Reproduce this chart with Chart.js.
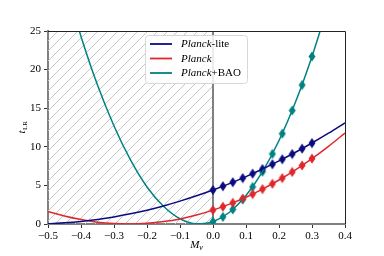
<!DOCTYPE html>
<html>
<head>
<meta charset="utf-8">
<script src="https://cdn.jsdelivr.net/npm/chart.js@4/dist/chart.umd.min.js"></script>
<style>
html, body { margin: 0; background: #fff; }
#wrap { width: 384px; height: 256px; }
</style>
</head>
<body>
<div id="wrap"><canvas id="chart"></canvas></div>
<script>
// curves
const curveX = [-0.5, -0.45, -0.4, -0.35, -0.3, -0.25, -0.2, -0.15, -0.1, -0.05, 0, 0.05, 0.1, 0.15, 0.2, 0.25, 0.3, 0.35, 0.4];
const liteCurve = [0.04, 0.15, 0.33, 0.59, 0.92, 1.32, 1.79, 2.34, 2.96, 3.65, 4.40, 5.23, 6.14, 7.12, 8.17, 9.29, 10.49, 11.76, 13.11];
const planckCurve = [1.63, 1.03, 0.57, 0.24, 0.05, 0.00, 0.09, 0.31, 0.66, 1.16, 1.80, 2.57, 3.47, 4.52, 5.70, 7.02, 8.47, 10.06, 11.79];
const baoX = [-0.45, -0.4, -0.35, -0.3, -0.25, -0.2, -0.15, -0.1, -0.05, 0, 0.05, 0.1, 0.15, 0.2, 0.25, 0.3, 0.35];
const baoCurve = [31.5, 24.3, 18.0, 12.7, 8.3, 4.8, 2.3, 0.68, 0.02, 0.30, 1.52, 3.68, 6.77, 10.81, 15.8, 21.7, 28.5];

// diamond markers
const markX = [0, 0.03, 0.06, 0.09, 0.12, 0.15, 0.18, 0.21, 0.24, 0.27, 0.30];
const liteMarks = [4.40, 4.89, 5.41, 5.95, 6.52, 7.12, 7.74, 8.38, 9.06, 9.76, 10.48];
const planckMarks = [1.80, 2.24, 2.74, 3.28, 3.87, 4.52, 5.21, 5.95, 6.74, 7.58, 8.47];
const baoMarks = [0.30, 0.92, 1.88, 3.17, 4.80, 6.77, 9.08, 11.7, 14.7, 18.0, 21.7];

const xTicks = [-0.5, -0.4, -0.3, -0.2, -0.1, 0, 0.1, 0.2, 0.3, 0.4];
const yTicks = [0, 5, 10, 15, 20, 25];

const NAVY = '#0b0b80';
const RED = '#e0282c';
const TEAL = '#008282';
const SERIF = '"Liberation Serif", "DejaVu Serif", serif';

const pts = (xs, ys) => xs.map((x, i) => ({ x: x, y: ys[i] }));

// thin diamond point
const diamond = (color) => {
    const c = document.createElement('canvas');
    c.width = 8; c.height = 11;
    const g = c.getContext('2d');
    g.fillStyle = color;
    g.beginPath();
    g.moveTo(4, 0.5); g.lineTo(7.5, 5.5); g.lineTo(4, 10.5); g.lineTo(0.5, 5.5);
    g.closePath();
    g.fill();
    return c;
};

const lineSet = (label, data, color) => ({
    label: label, data: data, borderColor: color, backgroundColor: color,
    borderWidth: 1.5, pointRadius: 0, showLine: true, tension: 0,
    cubicInterpolationMode: 'monotone'
});
const markSet = (data, color) => ({
    label: '', data: data, showLine: false, pointStyle: diamond(color),
    pointRadius: 4, backgroundColor: color, borderColor: color
});

// hatched region + x=0 line
const hatchPlugin = {
    id: 'hatch',
    beforeDatasetsDraw(chart) {
        const { ctx, chartArea: a, scales: { x, y } } = chart;
        const x0 = x.getPixelForValue(-0.5), x1 = x.getPixelForValue(0);
        ctx.save();
        ctx.beginPath();
        ctx.rect(x0, a.top, x1 - x0, a.bottom - a.top);
        ctx.clip();
        ctx.strokeStyle = '#c6c6c6';
        ctx.lineWidth = 1;
        const h = a.bottom - a.top;
        for (let s = x0 - h; s < x1 + 10; s += 10) {
            ctx.beginPath();
            ctx.moveTo(s, a.bottom);
            ctx.lineTo(s + h, a.top);
            ctx.stroke();
        }
        ctx.restore();
        ctx.save();
        ctx.strokeStyle = '#808080';
        ctx.lineWidth = 2;
        ctx.beginPath();
        ctx.moveTo(x1, a.top); ctx.lineTo(x1, a.bottom);
        ctx.stroke();
        ctx.restore();
    },
    afterDraw(chart) {
        const { ctx, chartArea: a } = chart;
        ctx.save();
        // top / right spines
        ctx.strokeStyle = '#222';
        ctx.lineWidth = 1;
        ctx.beginPath();
        ctx.moveTo(a.left, a.top + 0.5); ctx.lineTo(a.right + 0.5, a.top + 0.5); ctx.lineTo(a.right + 0.5, a.bottom);
        ctx.stroke();
        // axis titles
        ctx.fillStyle = '#000';
        ctx.textBaseline = 'alphabetic';
        ctx.font = 'italic 11px ' + SERIF;
        const cx = (a.left + a.right) / 2;
        const mw = ctx.measureText('M').width;
        ctx.font = 'italic 8px ' + SERIF;
        const nw = ctx.measureText('ν').width;
        let sx = cx - (mw + nw) / 2;
        ctx.font = 'italic 11px ' + SERIF;
        ctx.fillText('M', sx, 248);
        ctx.font = 'italic 8px ' + SERIF;
        ctx.fillText('ν', sx + mw, 250);

        ctx.translate(25, (a.top + a.bottom) / 2);
        ctx.rotate(-Math.PI / 2);
        ctx.font = 'italic 11px ' + SERIF;
        const tw = ctx.measureText('t').width;
        ctx.font = '7px ' + SERIF;
        const lw = ctx.measureText('LR').width;
        sx = -(tw + lw) / 2;
        ctx.font = 'italic 11px ' + SERIF;
        ctx.fillText('t', sx, 0);
        ctx.font = '7px ' + SERIF;
        ctx.fillText('LR', sx + tw + 0.5, 2);
        ctx.restore();

        // legend
        ctx.save();
        const lx = 145, ly = 35, lwid = 102, lh = 48;
        ctx.fillStyle = 'rgba(255,255,255,0.85)';
        ctx.strokeStyle = '#d8d8d8';
        ctx.lineWidth = 1;
        ctx.beginPath();
        ctx.roundRect(lx + 0.5, ly + 0.5, lwid, lh, 3);
        ctx.fill();
        ctx.stroke();
        const rows = [
            [NAVY, 'Planck', '-lite'],
            [RED, 'Planck', ''],
            [TEAL, 'Planck', '+BAO']
        ];
        rows.forEach((r, i) => {
            const yy = 44 + i * 14.5;
            ctx.strokeStyle = r[0];
            ctx.lineWidth = 1.8;
            ctx.beginPath();
            ctx.moveTo(150, yy); ctx.lineTo(172, yy);
            ctx.stroke();
            ctx.fillStyle = '#000';
            ctx.textBaseline = 'middle';
            ctx.font = 'italic 11px ' + SERIF;
            ctx.fillText(r[1], 181, yy + 0.5);
            const w = ctx.measureText(r[1]).width;
            ctx.font = '11px ' + SERIF;
            ctx.fillText(r[2], 181 + w, yy + 0.5);
        });
        ctx.restore();
    }
};

const fmt = (v) => {
    if (Math.abs(v) < 1e-9) return '0.0';
    const s = Math.abs(v).toFixed(1);
    return v < 0 ? '\u2212' + s : s;
};

new Chart(document.getElementById('chart'), {
    type: 'scatter',
    data: {
        datasets: [
            lineSet('Planck-lite', pts(curveX, liteCurve), NAVY),
            lineSet('Planck', pts(curveX, planckCurve), RED),
            lineSet('Planck+BAO', pts(baoX, baoCurve), TEAL),
            markSet(pts(markX, liteMarks), NAVY),
            markSet(pts(markX, planckMarks), RED),
            markSet(pts(markX, baoMarks), TEAL)
        ]
    },
    options: {
        responsive: true,
        maintainAspectRatio: false,
        animation: false,
        layout: { padding: { top: 31, right: 39, left: 0, bottom: 0 } },
        plugins: { legend: { display: false }, tooltip: { enabled: false } },
        scales: {
            x: {
                type: 'linear', min: -0.5, max: 0.4,
                afterBuildTicks: (s) => { s.ticks = xTicks.map(v => ({ value: v })); },
                afterFit: (s) => { s.height = 32; },
                ticks: { callback: fmt, color: '#000', font: { family: SERIF, size: 11 }, padding: 2, maxRotation: 0 },
                grid: { drawOnChartArea: false, tickLength: 4, color: '#333' },
                border: { color: '#808080', width: 2 }
            },
            y: {
                type: 'linear', min: 0, max: 25,
                afterBuildTicks: (s) => { s.ticks = yTicks.map(v => ({ value: v })); },
                afterFit: (s) => { s.width = 48; },
                ticks: { color: '#000', font: { family: SERIF, size: 11 }, padding: 3 },
                grid: { drawOnChartArea: false, tickLength: 4, color: '#333' },
                border: { color: '#808080', width: 2 }
            }
        }
    },
    plugins: [hatchPlugin]
});
</script>
</body>
</html>
